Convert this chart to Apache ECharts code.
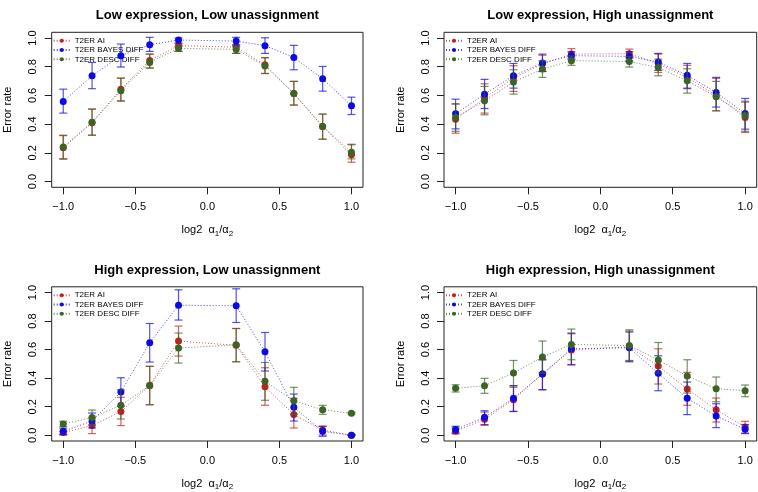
<!DOCTYPE html>
<html>
<head>
<meta charset="utf-8">
<script src="https://cdn.jsdelivr.net/npm/echarts@6/dist/echarts.min.js"></script>
<style>html,body{margin:0;padding:0;background:#fff}#c{width:758px;height:492px}</style>
</head>
<body>
<div id="c"></div>
<script>
// ---- data ----
const xVals = [-1.0, -0.8, -0.6, -0.4, -0.2, 0.2, 0.4, 0.6, 0.8, 1.0];
const seriesNames = ['T2ER AI', 'T2ER BAYES DIFF', 'T2ER DESC DIFF'];
const panelTitles = ['Low expression, Low unassignment', 'Low expression, High unassignment',
                     'High expression, Low unassignment', 'High expression, High unassignment'];
const xTicks = [-1.0, -0.5, 0.0, 0.5, 1.0];
const yTicks = [0.0, 0.2, 0.4, 0.6, 0.8, 1.0];

// Panel 1: Low expression, Low unassignment
const p1_ai      = [0.235, 0.41, 0.644, 0.844, 0.947, 0.937, 0.814, 0.614, 0.384, 0.186];
const p1_ai_lo   = [0.155, 0.323, 0.563, 0.791, 0.907, 0.893, 0.753, 0.533, 0.295, 0.135];
const p1_ai_hi   = [0.323, 0.505, 0.721, 0.888, 0.960, 0.949, 0.863, 0.698, 0.470, 0.260];
const p1_bay     = [0.558, 0.737, 0.877, 0.953, 0.986, 0.979, 0.947, 0.865, 0.716, 0.528];
const p1_bay_lo  = [0.477, 0.647, 0.798, 0.907, 0.965, 0.953, 0.893, 0.779, 0.630, 0.467];
const p1_bay_hi  = [0.644, 0.830, 0.958, 1.005, 1.000, 1.005, 1.002, 0.949, 0.802, 0.588];
const p1_desc    = [0.240, 0.414, 0.633, 0.830, 0.928, 0.921, 0.805, 0.614, 0.384, 0.205];
const p1_desc_lo = [0.160, 0.323, 0.560, 0.791, 0.907, 0.893, 0.753, 0.533, 0.295, 0.158];
const p1_desc_hi = [0.320, 0.505, 0.720, 0.888, 0.940, 0.940, 0.863, 0.698, 0.470, 0.256];

// Panel 2: Low expression, High unassignment
const p2_ai      = [0.435, 0.581, 0.721, 0.820, 0.888, 0.891, 0.820, 0.726, 0.600, 0.447];
const p2_ai_lo   = [0.337, 0.477, 0.628, 0.767, 0.860, 0.860, 0.760, 0.647, 0.493, 0.342];
const p2_ai_hi   = [0.542, 0.681, 0.807, 0.880, 0.926, 0.923, 0.888, 0.810, 0.719, 0.553];
const p2_bay     = [0.472, 0.609, 0.737, 0.826, 0.877, 0.872, 0.833, 0.740, 0.621, 0.474];
const p2_bay_lo  = [0.367, 0.509, 0.651, 0.767, 0.850, 0.840, 0.774, 0.651, 0.519, 0.365];
const p2_bay_hi  = [0.574, 0.712, 0.823, 0.888, 0.905, 0.905, 0.893, 0.823, 0.726, 0.579];
const p2_desc    = [0.447, 0.563, 0.693, 0.784, 0.842, 0.837, 0.795, 0.702, 0.591, 0.460];
const p2_desc_lo = [0.350, 0.465, 0.609, 0.726, 0.810, 0.798, 0.737, 0.616, 0.493, 0.350];
const p2_desc_hi = [0.540, 0.663, 0.779, 0.842, 0.875, 0.872, 0.853, 0.786, 0.698, 0.560];

// Panel 3: High expression, Low unassignment
const p3_ai      = [0.019, 0.068, 0.166, 0.350, 0.660, 0.630, 0.340, 0.145, 0.037, 0.000];
const p3_ai_lo   = [0.002, 0.012, 0.068, 0.214, 0.555, 0.515, 0.210, 0.051, 0.002, 0.000];
const p3_ai_hi   = [0.028, 0.121, 0.266, 0.483, 0.765, 0.748, 0.473, 0.259, 0.063, 0.004];
const p3_bay     = [0.028, 0.100, 0.303, 0.648, 0.911, 0.907, 0.585, 0.196, 0.028, 0.000];
const p3_bay_lo  = [0.005, 0.051, 0.203, 0.513, 0.807, 0.790, 0.450, 0.100, -0.007, 0.000];
const p3_bay_hi  = [0.050, 0.156, 0.403, 0.783, 1.019, 1.026, 0.720, 0.289, 0.063, 0.004];
const p3_desc    = [0.079, 0.124, 0.210, 0.347, 0.611, 0.634, 0.378, 0.242, 0.179, 0.154];
const p3_desc_lo = [0.061, 0.072, 0.114, 0.214, 0.506, 0.515, 0.245, 0.147, 0.147, 0.150];
const p3_desc_hi = [0.098, 0.177, 0.319, 0.483, 0.716, 0.748, 0.510, 0.336, 0.210, 0.160];

// Panel 4: High expression, High unassignment
const p4_ai      = [0.028, 0.112, 0.249, 0.430, 0.597, 0.620, 0.485, 0.324, 0.179, 0.058];
const p4_ai_lo   = [0.010, 0.070, 0.166, 0.319, 0.494, 0.520, 0.359, 0.210, 0.093, 0.016];
const p4_ai_hi   = [0.050, 0.163, 0.347, 0.529, 0.711, 0.730, 0.606, 0.441, 0.261, 0.098];
const p4_bay     = [0.040, 0.126, 0.259, 0.429, 0.606, 0.613, 0.434, 0.259, 0.135, 0.042];
const p4_bay_lo  = [0.016, 0.075, 0.168, 0.319, 0.494, 0.515, 0.312, 0.145, 0.054, 0.012];
const p4_bay_hi  = [0.063, 0.172, 0.347, 0.529, 0.716, 0.723, 0.557, 0.373, 0.221, 0.075];
const p4_desc    = [0.329, 0.347, 0.436, 0.548, 0.636, 0.629, 0.527, 0.415, 0.326, 0.312];
const p4_desc_lo = [0.303, 0.294, 0.336, 0.436, 0.529, 0.524, 0.436, 0.296, 0.235, 0.270];
const p4_desc_hi = [0.354, 0.399, 0.524, 0.660, 0.744, 0.739, 0.650, 0.529, 0.408, 0.352];

const panels = [
  [[p1_ai, p1_ai_lo, p1_ai_hi], [p1_bay, p1_bay_lo, p1_bay_hi], [p1_desc, p1_desc_lo, p1_desc_hi]],
  [[p2_ai, p2_ai_lo, p2_ai_hi], [p2_bay, p2_bay_lo, p2_bay_hi], [p2_desc, p2_desc_lo, p2_desc_hi]],
  [[p3_ai, p3_ai_lo, p3_ai_hi], [p3_bay, p3_bay_lo, p3_bay_hi], [p3_desc, p3_desc_lo, p3_desc_hi]],
  [[p4_ai, p4_ai_lo, p4_ai_hi], [p4_bay, p4_bay_lo, p4_bay_hi], [p4_desc, p4_desc_lo, p4_desc_hi]]
];

// ---- style / layout ----
const colors = ['#C81E1E', '#0A0AE6', '#3C6424'];
const FONT = 'Liberation Sans, Arial, sans-serif';
const gridPos = [
  {left: 51.7, top: 32.3, width: 311.3, height: 155},
  {left: 444, top: 32.3, width: 312.7, height: 155},
  {left: 51.7, top: 286.8, width: 311.3, height: 155.5},
  {left: 444, top: 286.8, width: 312.7, height: 155.5}
];
const fmt = v => (Math.round(v * 10) / 10).toFixed(1).replace('-', '\u2212');

const grids = [], xAxes = [], yAxes = [], titles = [], legends = [], series = [];
gridPos.forEach((g, i) => {
  grids.push(Object.assign({show: true, borderColor: '#222', borderWidth: 1, backgroundColor: 'transparent', containLabel: false}, g));
  xAxes.push({
    type: 'value', gridIndex: i, min: -1.08, max: 1.08, position: 'bottom',
    axisLine: {show: false, onZero: false}, splitLine: {show: false},
    axisTick: {show: true, length: 7, customValues: xTicks, lineStyle: {color: '#222', width: 1}},
    axisLabel: {customValues: xTicks, formatter: fmt, fontSize: 11, fontFamily: FONT, color: '#000', margin: 14},
    name: '{t|log2  \u03B1}{s|1}{t|/\u03B1}{s|2}', nameLocation: 'middle', nameGap: 36,
    nameTextStyle: {fontFamily: FONT, color: '#000', rich: {
      t: {fontSize: 11, fontFamily: FONT, color: '#000', lineHeight: 14},
      s: {fontSize: 8, fontFamily: FONT, color: '#000', verticalAlign: 'bottom', lineHeight: 8}
    }}
  });
  yAxes.push({
    type: 'value', gridIndex: i, min: -0.04, max: 1.04, position: 'left',
    axisLine: {show: false, onZero: false}, splitLine: {show: false},
    axisTick: {show: true, length: 7, customValues: yTicks, lineStyle: {color: '#222', width: 1}},
    axisLabel: {customValues: yTicks, formatter: fmt, rotate: 90, fontSize: 11, fontFamily: FONT, color: '#000', margin: 13},
    name: 'Error rate', nameLocation: 'middle', nameGap: 38,
    nameTextStyle: {fontSize: 11, fontFamily: FONT, color: '#000'}
  });
  titles.push({
    text: panelTitles[i], left: g.left + g.width / 2, top: g.top - 23, textAlign: 'center', padding: 0,
    textStyle: {fontSize: 13, fontWeight: 'bold', fontFamily: FONT, color: '#000'}
  });
  legends.push({
    data: seriesNames, orient: 'vertical', left: g.left + 1, top: g.top + 4.4, padding: 0,
    itemWidth: 16, itemHeight: 5, itemGap: 1.3, selectedMode: false,
    textStyle: {fontSize: 8, fontFamily: FONT, color: '#000', lineHeight: 8, padding: [0, 0, 0, 0]}
  });
  panels[i].forEach((s, k) => {
    const [mean, lo, hi] = s;
    series.push({
      type: 'custom', name: seriesNames[k] + ' err', xAxisIndex: i, yAxisIndex: i, silent: true,
      data: xVals.map((x, j) => [x, lo[j], hi[j]]),
      encode: {x: 0, y: [1, 2]}, z: 2 + k * 2,
      renderItem: (params, api) => {
        const p1 = api.coord([api.value(0), api.value(1)]);
        const p2 = api.coord([api.value(0), api.value(2)]);
        const hw = 4;
        const st = {stroke: colors[k], lineWidth: 1.2, opacity: 0.7};
        return {type: 'group', children: [
          {type: 'line', shape: {x1: p1[0], y1: p1[1], x2: p2[0], y2: p2[1]}, style: st},
          {type: 'line', shape: {x1: p1[0] - hw, y1: p1[1], x2: p1[0] + hw, y2: p1[1]}, style: st},
          {type: 'line', shape: {x1: p2[0] - hw, y1: p2[1], x2: p2[0] + hw, y2: p2[1]}, style: st}
        ]};
      }
    });
    series.push({
      type: 'line', name: seriesNames[k], xAxisIndex: i, yAxisIndex: i,
      data: xVals.map((x, j) => [x, mean[j]]),
      symbol: 'circle', symbolSize: 7, showSymbol: true, z: 3 + k * 2,
      itemStyle: {color: colors[k]},
      lineStyle: {color: colors[k], width: 1, type: [1, 2], opacity: 0.75},
      animation: false
    });
  });
});

const chart = echarts.init(document.getElementById('c'), null, {renderer: 'canvas'});
chart.setOption({
  animation: false,
  title: titles, legend: legends, grid: grids, xAxis: xAxes, yAxis: yAxes, series: series
});
</script>
</body>
</html>
